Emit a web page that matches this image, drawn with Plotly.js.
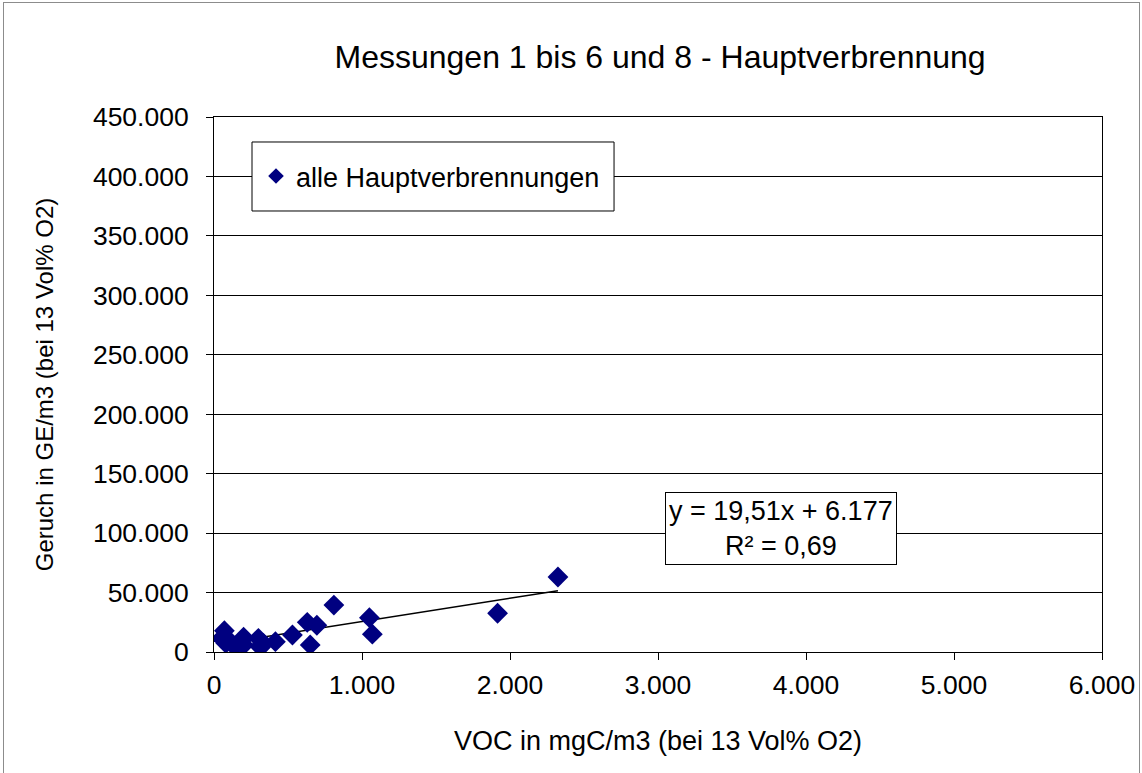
<!DOCTYPE html>
<html>
<head>
<meta charset="utf-8">
<script src="https://cdn.plot.ly/plotly-3.0.1.min.js"></script>
<style>
  html, body { margin: 0; padding: 0; background: #fff; }
  #wrap { position: absolute; left: 0; top: 0; width: 1142px; height: 773px; overflow: hidden; }
  #frame { position: absolute; left: 3px; top: 2px; width: 1135px; height: 800px; border: 1px solid #8c8c8c; pointer-events: none; z-index: 5; }
  #chart { position: absolute; left: 0; top: 0; width: 1142px; height: 773px; }
</style>
</head>
<body>
<div id="wrap">
  <div id="chart"></div>
  <div id="frame"></div>
</div>
<script>
// VOC in mgC/m3 (bei 13 Vol% O2)
const vocValues = [50, 70, 80, 110, 140, 190, 200, 200, 300, 311, 315, 333, 415, 530, 630, 650, 695, 810, 1050, 1070, 1916, 2324];
// Geruch in GE/m3 (bei 13 Vol% O2)
const geruchValues = [11500, 17900, 7300, 8700, 4500, 10100, 12400, 5900, 11500, 5000, 3900, 7300, 8700, 14300, 25000, 5900, 22500, 39500, 28900, 15000, 32600, 63100];
// linear trendline coefficients (from the chart label)
const trendSlope = 19.51;
const trendIntercept = 6177;
const trendLabel = ["y = 19,51x + 6.177", "R² = 0,69"];
const xTickValues = [0, 1000, 2000, 3000, 4000, 5000, 6000];
const yTickValues = [0, 50000, 100000, 150000, 200000, 250000, 300000, 350000, 400000, 450000];

const xMin = Math.min(...vocValues);
const xMax = Math.max(...vocValues);
const trendX = [xMin, xMax];
const trendY = trendX.map(v => trendSlope * v + trendIntercept);

const FONT = "Liberation Sans, Arial, sans-serif";

const traces = [
  {
    type: "scatter",
    mode: "lines",
    x: trendX,
    y: trendY,
    line: { color: "#000000", width: 1.5 },
    showlegend: false,
    hoverinfo: "skip"
  },
  {
    type: "scatter",
    mode: "markers",
    name: "alle Hauptverbrennungen",
    x: vocValues,
    y: geruchValues,
    marker: { symbol: "diamond", size: 16, color: "#000080", line: { width: 0 } }
  }
];

const layout = {
  width: 1142,
  height: 773,
  paper_bgcolor: "#ffffff",
  plot_bgcolor: "#ffffff",
  separators: ",.",
  font: { family: FONT, color: "#000000", size: 26 },
  margin: { l: 214, r: 40, t: 117, b: 121, autoexpand: false },
  title: {
    text: "Messungen 1 bis 6 und 8 - Hauptverbrennung",
    font: { family: FONT, size: 32, color: "#000000" },
    x: 0.578, xanchor: "center", xref: "container",
    y: 0.927, yanchor: "middle", yref: "container"
  },
  xaxis: {
    range: [0, 6000],
    tickvals: xTickValues,
    tickformat: ",d",
    ticks: "outside", ticklen: 7, tickwidth: 1, tickcolor: "#000",
    ticklabelstandoff: 2,
    showline: true, linecolor: "#000", linewidth: 1, mirror: true,
    showgrid: false, zeroline: false,
    tickfont: { family: FONT, size: 26.5, color: "#000" },
    title: { text: "VOC in mgC/m3 (bei 13 Vol% O2)", font: { family: FONT, size: 27, color: "#000" }, standoff: 32 },
    automargin: false
  },
  yaxis: {
    range: [0, 450000],
    tickvals: yTickValues,
    tickformat: ",d",
    ticks: "outside", ticklen: 7, tickwidth: 1, tickcolor: "#000",
    ticklabelstandoff: 12,
    showline: true, linecolor: "#000", linewidth: 1, mirror: true,
    showgrid: true, gridcolor: "#000", gridwidth: 1,
    zeroline: false,
    tickfont: { family: FONT, size: 26.5, color: "#000" },
    title: { text: "Geruch in GE/m3 (bei 13 Vol% O2)", font: { family: FONT, size: 24, color: "#000" }, standoff: 32 },
    automargin: false
  },
  showlegend: true,
  legend: {
    x: 0.0473, xanchor: "left", xref: "paper",
    y: 0.8888, yanchor: "middle", yref: "paper",
    bgcolor: "rgba(0,0,0,0)", borderwidth: 0,
    font: { family: FONT, size: 27, color: "#000" },
    itemsizing: "constant"
  },
  shapes: [
    {
      type: "rect", xref: "paper", yref: "paper",
      x0: 0.0428, x1: 0.4505, y0: 0.8243, y1: 0.9533,
      fillcolor: "#ffffff", line: { color: "#000", width: 1 }, layer: "above"
    }
  ],
  annotations: [
    {
      xref: "paper", yref: "paper",
      x: (780.5 - 214) / 888, y: (652 - 528) / 535,
      xanchor: "center", yanchor: "middle",
      text: trendLabel.join("<br>"),
      showarrow: false,
      align: "center",
      font: { family: FONT, size: 27, color: "#000" },
      bgcolor: "#ffffff", bordercolor: "#000", borderwidth: 1, borderpad: 3
    }
  ]
};

Plotly.newPlot("chart", traces, layout, { staticPlot: true, displayModeBar: false });
</script>
</body>
</html>
